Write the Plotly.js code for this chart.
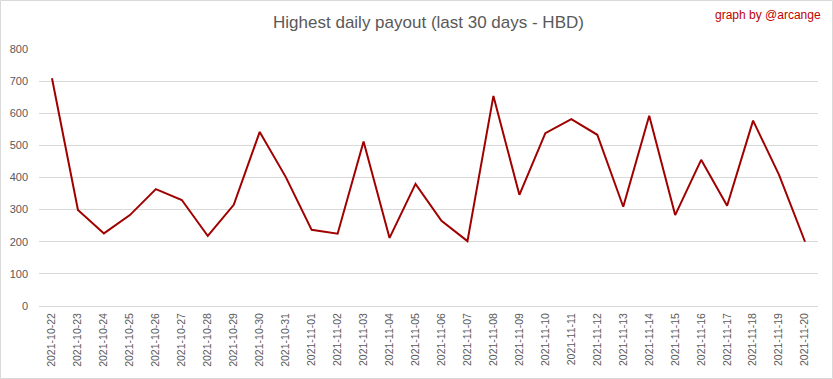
<!DOCTYPE html>
<html><head><meta charset="utf-8">
<script src="https://cdn.plot.ly/plotly-3.0.1.min.js"></script>
<style>html,body{margin:0;padding:0;background:#fff}#chart{width:833px;height:379px}</style>
</head><body><div id="chart"></div>
<script>
const dates = ["2021-10-22","2021-10-23","2021-10-24","2021-10-25","2021-10-26","2021-10-27","2021-10-28","2021-10-29","2021-10-30","2021-10-31",
"2021-11-01","2021-11-02","2021-11-03","2021-11-04","2021-11-05","2021-11-06","2021-11-07","2021-11-08","2021-11-09","2021-11-10",
"2021-11-11","2021-11-12","2021-11-13","2021-11-14","2021-11-15","2021-11-16","2021-11-17","2021-11-18","2021-11-19","2021-11-20"];
const payout = [709,299,226,283,364,330,218,315,542,402,
237,225,512,212,380,265,202,654,346,538,
582,533,309,592,283,455,312,577,408,200];
const yTicks = [0,100,200,300,400,500,600,700,800];

const W=833,H=379,L=39,R=15,T=49,B=73;
const pw=W-L-R, ph=H-T-B;
const trace = {x:dates, y:payout, type:'scatter', mode:'lines',
  line:{color:'#A00000', width:2}, hoverinfo:'x+y'};
const layout = {
  width:W, height:H, margin:{l:L,r:R,t:T,b:B,pad:0},
  paper_bgcolor:'#fff', plot_bgcolor:'#fff', showlegend:false,
  font:{family:'"Liberation Sans", Arial, sans-serif', color:'#595959', size:12},
  title:{text:'Highest daily payout (last 30 days - HBD)', x:0.5, xref:'paper', y:1-22/H, yanchor:'middle',
    font:{family:'"Liberation Sans", sans-serif', size:17, color:'#595959'}},
  xaxis:{type:'category', range:[-0.5, dates.length-0.5], tickangle:-90, showgrid:false, zeroline:false, showline:false, ticks:'',
    tickfont:{family:'"Liberation Sans", Arial, sans-serif', size:10.5, color:'#595959'}, ticklabelstandoff:4, fixedrange:true},
  yaxis:{range:[0,800], tickvals:yTicks, ticktext:yTicks.map(String), showgrid:true, gridcolor:'#d9d9d9', gridwidth:1,
    zeroline:true, zerolinecolor:'#d9d9d9', zerolinewidth:1, showline:false, ticks:'',
    tickfont:{family:'"Liberation Sans", Arial, sans-serif', size:11, color:'#595959'}, ticklabelstandoff:10, fixedrange:true},
  annotations:[{text:'graph by @arcange', xref:'paper', yref:'paper', x:(W-10-L)/pw, y:(H-15-B)/ph, xanchor:'right', yanchor:'middle',
    showarrow:false, font:{family:'"Liberation Sans", sans-serif', size:12, color:'#C00000'}}],
  shapes:[{type:'rect', xref:'paper', yref:'paper', x0:(0.5-L)/pw, x1:(W-0.5-L)/pw, y0:-(B-0.5)/ph, y1:(H-B-0.5)/ph,
    line:{color:'#d9d9d9', width:1}, fillcolor:'rgba(0,0,0,0)', layer:'below'}]
};
Plotly.newPlot('chart',[trace],layout,{displayModeBar:false,staticPlot:true});
</script></body></html>
